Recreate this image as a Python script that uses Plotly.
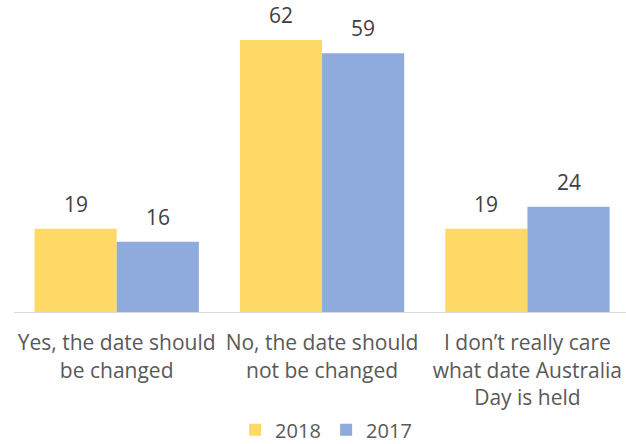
import plotly.graph_objects as go

categories = ["Yes, the date should<br>be changed",
              "No, the date should<br>not be changed",
              "I don’t really care<br>what date Australia<br>Day is held"]
series_names = ["2018", "2017"]
values_2018 = [19, 62, 19]
values_2017 = [16, 59, 24]
colors = ["#FFD966", "#8FAADC"]

FONT = "Open Sans, Lato, sans-serif"

fig = go.Figure()
for name, vals, col in zip(series_names, [values_2018, values_2017], colors):
    fig.add_trace(go.Bar(name=name, x=categories, y=vals, marker_color=col,
                         marker_line_width=0))

offsets = [-0.2, 0.2]
for vals, off in zip([values_2018, values_2017], offsets):
    for i, v in enumerate(vals):
        fig.add_annotation(x=i + off, y=v, text=str(v), showarrow=False,
                           yshift=25, yanchor="middle", xanchor="center",
                           font=dict(family=FONT, size=21, color="#404040"))

fig.update_layout(
    width=626, height=444,
    margin=dict(l=14, r=0, t=10, b=132, autoexpand=False),
    paper_bgcolor="white", plot_bgcolor="white",
    barmode="group", bargap=0.2, bargroupgap=0,
    showlegend=True,
    legend=dict(orientation="h", x=0.51, xanchor="center", y=-0.39, yanchor="middle",
                font=dict(family=FONT, size=20, color="#595959"),
                itemwidth=30, entrywidth=46, traceorder="normal"),
    font=dict(family=FONT),
)
fig.update_xaxes(range=[-0.5, 2.48], showline=True, linecolor="#D9D9D9", linewidth=1,
                 ticks="", tickfont=dict(family=FONT, size=21, color="#595959"),
                 ticklabelstandoff=12, showgrid=False, tickangle=0, automargin=False)
fig.update_yaxes(range=[0, 68.84], visible=False, showgrid=False, automargin=False)

fig.write_html("out.html", config={"displayModeBar": False},
               post_script="document.body.style.margin='0px';")
